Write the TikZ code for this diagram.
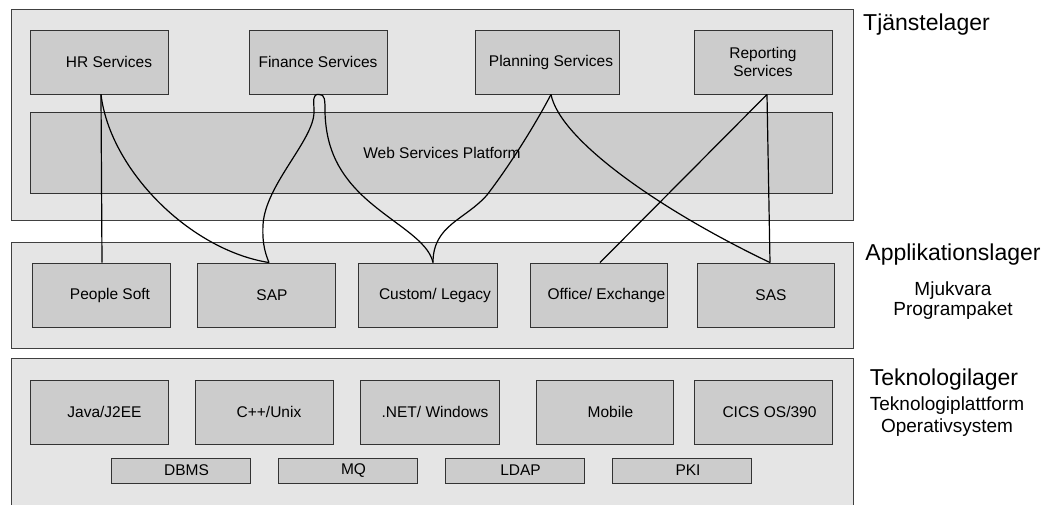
\documentclass[tikz,border=0pt]{standalone}
\usepackage{fontspec}
\setmainfont{Liberation Sans}
\begin{document}
\begin{tikzpicture}[x=1pt,y=-1pt,
  layer/.style={draw=black!75, fill=black!10, line width=1pt, anchor=north west, inner sep=0pt},
  box/.style={draw=black!80, fill=black!20, line width=0.9pt, minimum width=138pt, minimum height=64pt, inner sep=0pt, align=center, font=\fontsize{15.5}{18}\selectfont},
  smallbox/.style={box, minimum width=139pt, minimum height=25pt},
  conn/.style={line width=1.2pt, black},
  big/.style={inner sep=0pt, font=\fontsize{23}{26}\selectfont},
  sub/.style={inner sep=0pt, font=\fontsize{19}{22}\selectfont}]
\useasboundingbox (0,0) rectangle (1053,504);
% layers
\node[layer, minimum width=842pt, minimum height=211pt] (L1) at (11,9) {};
\node[layer, minimum width=842pt, minimum height=106pt] (L2) at (11,242) {};
\node[layer, minimum width=842pt, minimum height=160pt] (L3) at (11,358) {};
% service layer
\node[box] (hr) at (99,62) {\hspace*{20pt}HR Services};
\node[box] (fin) at (318,62) {Finance Services};
\node[box, minimum width=144pt] (plan) at (547,62) {\hspace*{8pt}Planning Services};
\node[box] (rep) at (763,62) {Reporting\\Services};
\node[box, minimum width=802pt, minimum height=81pt] (wsp) at (431,152.5) {\hspace*{22pt}Web Services Platform};
% application layer
\node[box] (ps) at (101,295) {\hspace*{18pt}People Soft};
\node[box] (sap) at (266,295) {\hspace*{12pt}SAP};
\node[box, minimum width=139pt] (cust) at (427.5,295) {\hspace*{15pt}Custom/ Legacy};
\node[box, minimum width=137pt] (off) at (598.5,295) {\hspace*{16pt}Office/ Exchange};
\node[box, minimum width=137pt] (sas) at (765.5,295) {\hspace*{11pt}SAS};
% technology layer
\node[box] (java) at (99,412) {\hspace*{11pt}Java/J2EE};
\node[box] (cpp) at (264,412) {\hspace*{10pt}C++/Unix};
\node[box, minimum width=139pt] (net) at (429.5,412) {\hspace*{11pt}.NET/ Windows};
\node[box, minimum width=137pt] (mob) at (604.5,412) {\hspace*{12pt}Mobile};
\node[box] (cics) at (763,412) {\hspace*{13pt}CICS OS/390};
\node[smallbox] (dbms) at (180.5,470.5) {\hspace*{12pt}DBMS};
\node[smallbox] (mq) at (347.5,470.5) {\hspace*{12pt}MQ};
\node[smallbox] (ldap) at (514.5,470.5) {\hspace*{12pt}LDAP};
\node[smallbox] (pki) at (682,470.5) {\hspace*{12pt}PKI};
% connectors
\draw[conn] ([xshift=2pt]hr.south) -- ([xshift=1pt]ps.north);
\draw[conn] ([xshift=2pt]hr.south) .. controls (110,170) and (190,250) .. ([xshift=3pt]sap.north);
\draw[conn] ([xshift=1pt]fin.south) .. controls (312,94) and (314,100) .. (314,112)
   .. controls (314,140) and (265,185) .. (263,225)
   .. controls (262,245) and (266,255) .. ([xshift=3pt]sap.north);
\draw[conn] ([xshift=1pt]fin.south) .. controls (325,94) and (325,100) .. (325,112)
   .. controls (326,150) and (340,175) .. (365,198)
   .. controls (395,225) and (428,240) .. ([xshift=5.5pt]cust.north);
\draw[conn] ([xshift=4pt]plan.south) .. controls (535,125) and (510,165) .. (487,195)
   .. controls (465,220) and (433,225) .. ([xshift=5.5pt]cust.north);
\draw[conn] ([xshift=4pt]plan.south) .. controls (560,140) and (660,210) .. ([xshift=4.5pt]sas.north);
\draw[conn] ([xshift=4pt]rep.south) -- ([xshift=1.5pt]off.north);
\draw[conn] ([xshift=4pt]rep.south) -- ([xshift=4.5pt]sas.north);
% right labels
\node[big, anchor=base west] (t1) at (863,30) {Tjänstelager};
\node[big, anchor=base] (t2) at (953,260) {Applikationslager};
\node[sub, anchor=base] (t2a) at (953,295) {Mjukvara};
\node[sub, anchor=base] (t2b) at (953,315) {Programpaket};
\node[big, anchor=base] (t3) at (944,385) {Teknologilager};
\node[sub, anchor=base] (t3a) at (947,410) {Teknologiplattform};
\node[sub, anchor=base] (t3b) at (947,432) {Operativsystem};
\end{tikzpicture}
\end{document}
